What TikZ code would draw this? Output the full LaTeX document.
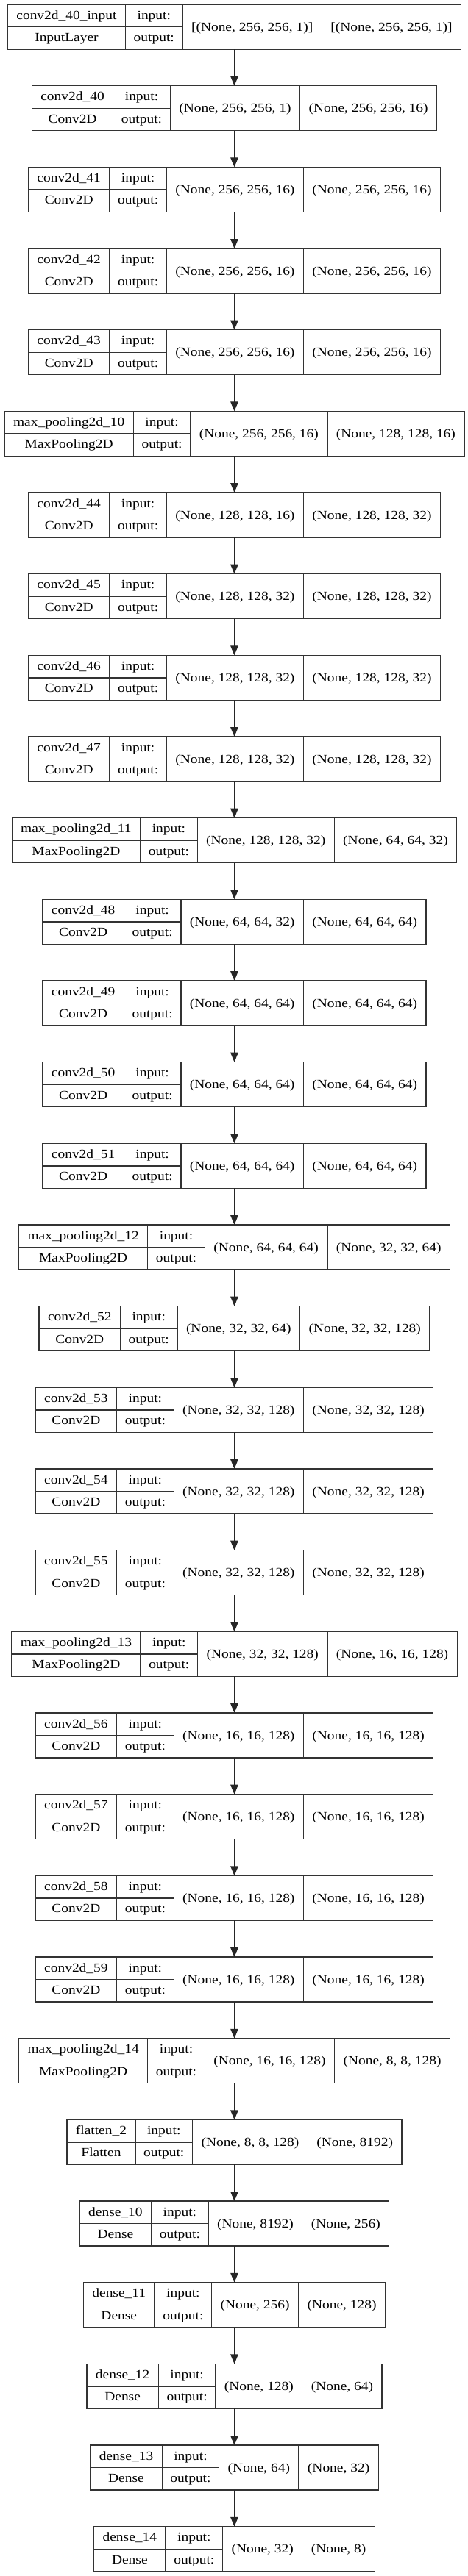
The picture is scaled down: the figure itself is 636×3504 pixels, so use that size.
\documentclass[tikz,border=0pt]{standalone}
\usepackage{fontspec}
\setmainfont{Liberation Serif}[FakeStretch=1.144]
\usetikzlibrary{arrows.meta}
\newcommand\lyfont{\fontsize{17bp}{20bp}\selectfont}
\newlength\lywa \newlength\lywb \newlength\lywc \newlength\lywd \newlength\lywt
\newcommand\lymeasure[2]{\settowidth{#1}{\pgfinterruptpicture\lyfont #2\endpgfinterruptpicture}}
\tikzset{
  boxline/.style={draw=black!80, line width=1.3bp},
  layer/.style={boxline, rectangle, inner sep=0pt, outer sep=0pt, minimum height=61bp},
  txt/.style={font=\lyfont, anchor=base, inner sep=0pt},
  conn/.style={draw=black!85, line width=1.2bp, -{Triangle[length=13bp,width=10.5bp]}},
}
\newcommand\layerbox[5]{%
  \lymeasure\lywa{#2}\lymeasure\lywt{#3}%
  \ifdim\lywt>\lywa \lywa=\lywt\fi
  \addtolength\lywa{24bp}%
  \lymeasure\lywb{output:}\addtolength\lywb{22.4bp}%
  \lymeasure\lywc{#4}\addtolength\lywc{24bp}%
  \lymeasure\lywd{#5}\addtolength\lywd{24bp}%
  \pgfmathsetlengthmacro\lyW{\lywa+\lywb+\lywc+\lywd}%
  \pgfmathsetlengthmacro\lyT{-(6+#1*110.67)*1bp}%
  \pgfmathsetlengthmacro\lyB{\lyT-61bp}%
  \pgfmathsetlengthmacro\lyM{\lyT-30.5bp}%
  \pgfmathsetlengthmacro\lyL{318.5bp-0.5*\lyW}%
  \pgfmathsetlengthmacro\lyA{\lyL+\lywa}%
  \pgfmathsetlengthmacro\lyBx{\lyA+\lywb}%
  \pgfmathsetlengthmacro\lyC{\lyBx+\lywc}%
  \pgfmathsetlengthmacro\lyR{\lyC+\lywd}%
  \node[layer, minimum width=\lyW] (L#1) at (318.5bp,\lyM) {};
  \draw[boxline] (\lyA,\lyT) -- (\lyA,\lyB) (\lyBx,\lyT) -- (\lyBx,\lyB)
    (\lyC,\lyT) -- (\lyC,\lyB) (\lyL,\lyM) -- (\lyBx,\lyM);
  \node[txt] (N#1) at ({0.5*(\lyL+\lyA)},\lyT-20bp) {#2};
  \node[txt] (C#1) at ({0.5*(\lyL+\lyA)},\lyT-50.5bp) {#3};
  \node[txt] (I#1) at ({0.5*(\lyA+\lyBx)},\lyT-20bp) {input:};
  \node[txt] (O#1) at ({0.5*(\lyA+\lyBx)},\lyT-50.5bp) {output:};
  \node[txt] (S#1) at ({0.5*(\lyBx+\lyC)},\lyT-36.2bp) {#4};
  \node[txt] (T#1) at ({0.5*(\lyC+\lyR)},\lyT-36.2bp) {#5};
}
\begin{document}
\begin{tikzpicture}
\useasboundingbox[fill=white] (0,0) rectangle (636bp,-3504bp);
\layerbox{0}{conv2d\_40\_input}{InputLayer}{[(None, 256, 256, 1)]}{[(None, 256, 256, 1)]}
\layerbox{1}{conv2d\_40}{Conv2D}{(None, 256, 256, 1)}{(None, 256, 256, 16)}
\layerbox{2}{conv2d\_41}{Conv2D}{(None, 256, 256, 16)}{(None, 256, 256, 16)}
\layerbox{3}{conv2d\_42}{Conv2D}{(None, 256, 256, 16)}{(None, 256, 256, 16)}
\layerbox{4}{conv2d\_43}{Conv2D}{(None, 256, 256, 16)}{(None, 256, 256, 16)}
\layerbox{5}{max\_pooling2d\_10}{MaxPooling2D}{(None, 256, 256, 16)}{(None, 128, 128, 16)}
\layerbox{6}{conv2d\_44}{Conv2D}{(None, 128, 128, 16)}{(None, 128, 128, 32)}
\layerbox{7}{conv2d\_45}{Conv2D}{(None, 128, 128, 32)}{(None, 128, 128, 32)}
\layerbox{8}{conv2d\_46}{Conv2D}{(None, 128, 128, 32)}{(None, 128, 128, 32)}
\layerbox{9}{conv2d\_47}{Conv2D}{(None, 128, 128, 32)}{(None, 128, 128, 32)}
\layerbox{10}{max\_pooling2d\_11}{MaxPooling2D}{(None, 128, 128, 32)}{(None, 64, 64, 32)}
\layerbox{11}{conv2d\_48}{Conv2D}{(None, 64, 64, 32)}{(None, 64, 64, 64)}
\layerbox{12}{conv2d\_49}{Conv2D}{(None, 64, 64, 64)}{(None, 64, 64, 64)}
\layerbox{13}{conv2d\_50}{Conv2D}{(None, 64, 64, 64)}{(None, 64, 64, 64)}
\layerbox{14}{conv2d\_51}{Conv2D}{(None, 64, 64, 64)}{(None, 64, 64, 64)}
\layerbox{15}{max\_pooling2d\_12}{MaxPooling2D}{(None, 64, 64, 64)}{(None, 32, 32, 64)}
\layerbox{16}{conv2d\_52}{Conv2D}{(None, 32, 32, 64)}{(None, 32, 32, 128)}
\layerbox{17}{conv2d\_53}{Conv2D}{(None, 32, 32, 128)}{(None, 32, 32, 128)}
\layerbox{18}{conv2d\_54}{Conv2D}{(None, 32, 32, 128)}{(None, 32, 32, 128)}
\layerbox{19}{conv2d\_55}{Conv2D}{(None, 32, 32, 128)}{(None, 32, 32, 128)}
\layerbox{20}{max\_pooling2d\_13}{MaxPooling2D}{(None, 32, 32, 128)}{(None, 16, 16, 128)}
\layerbox{21}{conv2d\_56}{Conv2D}{(None, 16, 16, 128)}{(None, 16, 16, 128)}
\layerbox{22}{conv2d\_57}{Conv2D}{(None, 16, 16, 128)}{(None, 16, 16, 128)}
\layerbox{23}{conv2d\_58}{Conv2D}{(None, 16, 16, 128)}{(None, 16, 16, 128)}
\layerbox{24}{conv2d\_59}{Conv2D}{(None, 16, 16, 128)}{(None, 16, 16, 128)}
\layerbox{25}{max\_pooling2d\_14}{MaxPooling2D}{(None, 16, 16, 128)}{(None, 8, 8, 128)}
\layerbox{26}{flatten\_2}{Flatten}{(None, 8, 8, 128)}{(None, 8192)}
\layerbox{27}{dense\_10}{Dense}{(None, 8192)}{(None, 256)}
\layerbox{28}{dense\_11}{Dense}{(None, 256)}{(None, 128)}
\layerbox{29}{dense\_12}{Dense}{(None, 128)}{(None, 64)}
\layerbox{30}{dense\_13}{Dense}{(None, 64)}{(None, 32)}
\layerbox{31}{dense\_14}{Dense}{(None, 32)}{(None, 8)}
\foreach \i [evaluate=\i as \j using int(\i+1)] in {0,...,30}
  \draw[conn] (L\i.south) -- (L\j.north);
\end{tikzpicture}
\end{document}
